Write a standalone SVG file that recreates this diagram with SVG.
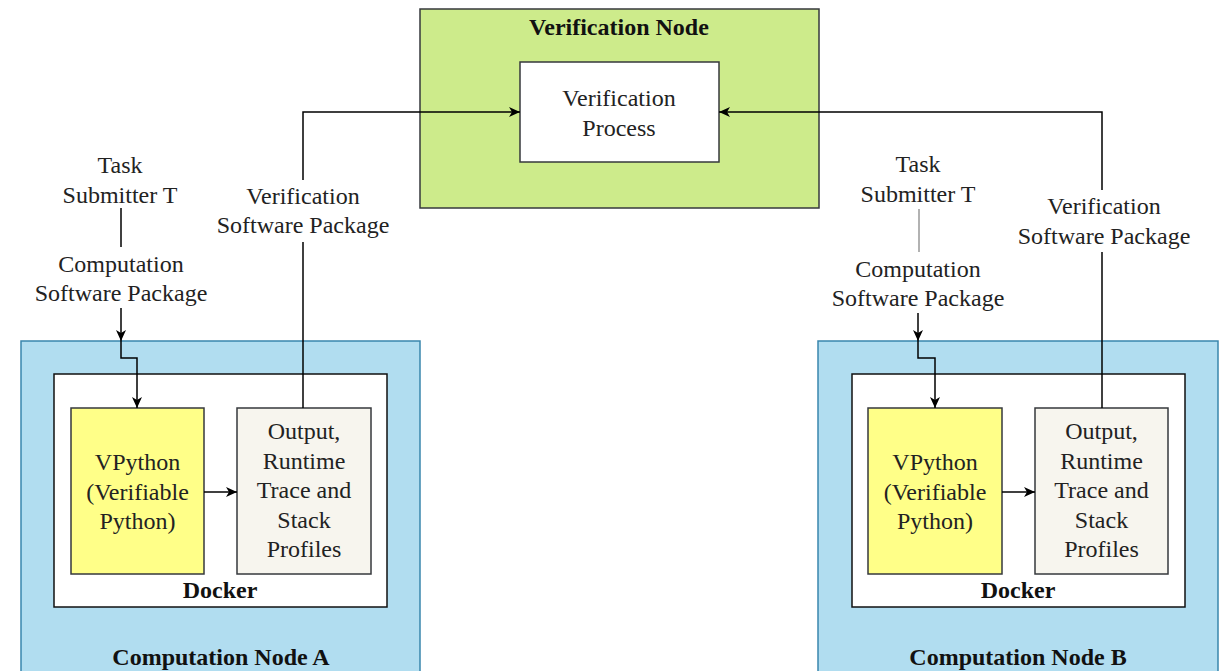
<svg xmlns="http://www.w3.org/2000/svg" width="1221" height="671" viewBox="0 0 1221 671">
<defs>
<marker id="arr" markerUnits="userSpaceOnUse" markerWidth="12" markerHeight="12" viewBox="0 0 12 12" refX="11" refY="6" orient="auto">
<path d="M0,1 L11,6 L0,11 L3,6 z" fill="#000"/>
</marker>
<style>
text{font-family:"Liberation Serif","Times New Roman",serif;font-size:24px;fill:#222;text-anchor:middle}
.b{font-weight:bold;fill:#111}
.box{stroke:#36393d;stroke-width:1.5}
.con{fill:none;stroke:#000;stroke-width:1.5}
</style>
</defs>
<rect width="1221" height="671" fill="#fff"/>

<g id="verification-node">
<rect x="420" y="9" width="399" height="199" fill="#cdeb8b" class="box"/>
<text x="619" y="35" class="b">Verification Node</text>
</g>
<g id="verification-process">
<rect x="520" y="62" width="199" height="100" fill="#fff" class="box" stroke="#000"/>
<text x="619" y="106">Verification</text>
<text x="619" y="136">Process</text>
</g>

<g id="computation-node-a">
<rect x="21" y="341" width="399" height="340" fill="#b1ddf0" stroke="#3a86ad" stroke-width="1.5"/>
<text x="221" y="665" class="b">Computation Node A</text>
</g>
<g id="docker-a">
<rect x="54" y="374" width="333" height="233" fill="#fff" stroke="#111" stroke-width="1.5"/>
<text x="220" y="598" class="b">Docker</text>
</g>
<g id="vpython-a">
<rect x="71" y="408" width="133" height="166" fill="#ffff88" class="box"/>
<text x="137.5" y="470">VPython</text>
<text x="137.5" y="500">(Verifiable</text>
<text x="137.5" y="529">Python)</text>
</g>
<g id="output-a">
<rect x="237" y="408" width="134" height="166" fill="#f7f5ee" class="box"/>
<text x="304" y="439">Output,</text>
<text x="304" y="469">Runtime</text>
<text x="304" y="498">Trace and</text>
<text x="304" y="528">Stack</text>
<text x="304" y="557">Profiles</text>
</g>
<g id="task-submitter-a">
<text x="120" y="173">Task</text>
<text x="120" y="203">Submitter T</text>
</g>
<g id="comp-pkg-a">
<text x="121" y="272">Computation</text>
<text x="121" y="301">Software Package</text>
</g>
<g id="verif-pkg-a">
<text x="303" y="204">Verification</text>
<text x="303" y="233">Software Package</text>
</g>

<g id="computation-node-b">
<rect x="818" y="341" width="400" height="340" fill="#b1ddf0" stroke="#3a86ad" stroke-width="1.5"/>
<text x="1018" y="665" class="b">Computation Node B</text>
</g>
<g id="docker-b">
<rect x="852" y="374" width="333" height="233" fill="#fff" stroke="#111" stroke-width="1.5"/>
<text x="1018" y="598" class="b">Docker</text>
</g>
<g id="vpython-b">
<rect x="868" y="408" width="134" height="166" fill="#ffff88" class="box"/>
<text x="935" y="470">VPython</text>
<text x="935" y="500">(Verifiable</text>
<text x="935" y="529">Python)</text>
</g>
<g id="output-b">
<rect x="1035" y="408" width="133" height="166" fill="#f7f5ee" class="box"/>
<text x="1101.5" y="439">Output,</text>
<text x="1101.5" y="469">Runtime</text>
<text x="1101.5" y="498">Trace and</text>
<text x="1101.5" y="528">Stack</text>
<text x="1101.5" y="557">Profiles</text>
</g>
<g id="task-submitter-b">
<text x="918" y="172">Task</text>
<text x="918" y="202">Submitter T</text>
</g>
<g id="comp-pkg-b">
<text x="918" y="277">Computation</text>
<text x="918" y="306">Software Package</text>
</g>
<g id="verif-pkg-b">
<text x="1104" y="214">Verification</text>
<text x="1104" y="244">Software Package</text>
</g>

<g id="connectors">
<line x1="121" y1="208" x2="121" y2="247" class="con"/>
<line x1="121" y1="308" x2="121" y2="341" class="con" marker-end="url(#arr)"/>
<path d="M121,341 V358 H137 V408" class="con" marker-end="url(#arr)"/>
<line x1="204" y1="492" x2="237" y2="492" class="con" marker-end="url(#arr)"/>
<path d="M303,408 V242" class="con"/>
<path d="M303,180 V112 H520" class="con" marker-end="url(#arr)"/>

<line x1="919" y1="209" x2="919" y2="252" fill="none" stroke="#999" stroke-width="1.5"/>
<line x1="918" y1="313" x2="918" y2="341" class="con" marker-end="url(#arr)"/>
<path d="M918,341 V358 H935 V408" class="con" marker-end="url(#arr)"/>
<line x1="1002" y1="492" x2="1035" y2="492" class="con" marker-end="url(#arr)"/>
<path d="M1102,408 V252" class="con"/>
<path d="M1102,190 V112 H719" class="con" marker-end="url(#arr)"/>
</g>
</svg>
